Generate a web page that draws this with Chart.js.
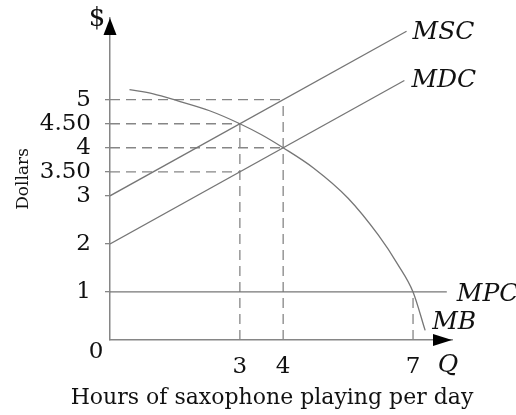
<!DOCTYPE html>
<html>
<head>
<meta charset="utf-8">
<script src="https://cdn.jsdelivr.net/npm/chart.js@4/dist/chart.umd.min.js"></script>
<style>
html,body{margin:0;padding:0;background:#fff;}
#wrap{width:516px;height:415px;position:relative;}
</style>
</head>
<body>
<div id="wrap"><canvas id="c"></canvas></div>
<script>
// ---- data (Q = hours per day, P = dollars) ----
const mscQ = [0, 6.85];
const mscP = [3, 6.425];
const mdcQ = [0, 6.8];
const mdcP = [2, 5.4];
const mpcQ = [0, 7.78];
const mpcP = [1, 1];
const mbQ = [0.45, 1.0, 1.55, 2.3, 3.0, 3.5, 4.0, 4.7, 5.5, 6.2, 6.65, 7.0, 7.28];
const mbP = [5.21, 5.12, 4.98, 4.77, 4.5, 4.27, 4.0, 3.58, 2.95, 2.18, 1.57, 1.0, 0.2];
// dashed guides
const hGuideP = [5, 4.5, 4, 3.5];
const hGuideQ = [4, 3, 4, 3];
const vGuideQ = [3, 4, 7];
const vGuideP = [4.5, 5, 1];
// ticks
const xTickValues = [3, 4, 7];
const xTickLabels = ['3', '4', '7'];
const yTickValues = [1, 2, 3, 3.5, 4, 4.5, 5];
const yTickLabels = ['1', '2', '3', '3.50', '4', '4.50', '5'];
const curveNames = ['MSC', 'MDC', 'MPC', 'MB'];
const xTitle = 'Hours of saxophone playing per day';
const yTitle = 'Dollars';

const zip = (q, p) => q.map((v, i) => ({x: v, y: p[i]}));
const LINE = '#767676';
const DASH = '#868686';
const SERIF = '"DejaVu Serif", serif';

const solid = (label, data, extra) => Object.assign({
  label, data, borderColor: LINE, borderWidth: 1.3, pointRadius: 0, fill: false
}, extra || {});
const datasets = [
  solid(curveNames[0], zip(mscQ, mscP)),
  solid(curveNames[1], zip(mdcQ, mdcP)),
  solid(curveNames[2], zip(mpcQ, mpcP)),
  solid(curveNames[3], zip(mbQ, mbP), {cubicInterpolationMode: 'monotone'})
];
hGuideP.forEach((p, i) => datasets.push(solid('h' + i,
  [{x: 0, y: p}, {x: hGuideQ[i], y: p}], {borderColor: DASH, borderDash: [10, 6]})));
vGuideQ.forEach((q, i) => datasets.push(solid('v' + i,
  [{x: q, y: 0}, {x: q, y: vGuideP[i]}], {borderColor: DASH, borderDash: [10, 6]})));

const annot = {
  id: 'annot',
  afterDraw(chart) {
    const {ctx, chartArea: a, scales: {x, y}} = chart;
    ctx.save();
    ctx.fillStyle = '#000';
    // arrows
    ctx.beginPath();
    ctx.moveTo(a.left, a.top); ctx.lineTo(a.left - 6.5, a.top + 17); ctx.lineTo(a.left + 6.5, a.top + 17); ctx.closePath(); ctx.fill();
    ctx.beginPath();
    ctx.moveTo(a.right, a.bottom); ctx.lineTo(a.right - 19, a.bottom - 6); ctx.lineTo(a.right - 19, a.bottom + 6); ctx.closePath(); ctx.fill();
    ctx.fillStyle = '#111';
    ctx.textBaseline = 'middle';
    ctx.textAlign = 'center';
    ctx.font = '26px ' + SERIF;
    ctx.fillText('$', a.left - 13, a.top + 1);
    ctx.font = '23px ' + SERIF;
    ctx.fillText('0', a.left - 14, a.bottom + 12);
    ctx.font = '22px ' + SERIF;
    ctx.fillText(xTitle, 272, a.bottom + 58);
    ctx.font = 'italic 25px ' + SERIF;
    ctx.fillText('Q', a.right - 4, a.bottom + 25);
    ctx.textAlign = 'left';
    const ends = [
      [mscQ[1], mscP[1], 6, 1],
      [mdcQ[1], mdcP[1], 7, 0],
      [mpcQ[1], mpcP[1], 10, 3],
      [mbQ[mbQ.length - 1], mbP[mbP.length - 1], 7, -8]
    ];
    ends.forEach((e, i) => {
      ctx.fillText(curveNames[i], x.getPixelForValue(e[0]) + e[2], y.getPixelForValue(e[1]) + e[3]);
    });
    ctx.restore();
  }
};

const noPad = s => { s.paddingTop = 0; s.paddingBottom = 0; s.paddingLeft = 0; s.paddingRight = 0; };

new Chart(document.getElementById('c'), {
  type: 'line',
  data: {datasets},
  plugins: [annot],
  options: {
    responsive: true,
    maintainAspectRatio: false,
    animation: false,
    layout: {padding: {top: 18, right: 64, left: 0, bottom: 0}},
    plugins: {legend: {display: false}, tooltip: {enabled: false}},
    scales: {
      x: {
        type: 'linear', min: 0, max: 7.9,
        afterBuildTicks: s => { s.ticks = xTickValues.map(v => ({value: v})); },
        afterFit: s => { s.height = 75; noPad(s); },
        ticks: {
          callback: v => xTickLabels[xTickValues.indexOf(v)] ?? '',
          color: '#111', font: {family: SERIF, size: 23}, padding: 13, maxRotation: 0, autoSkip: false
        },
        grid: {display: false, drawTicks: false},
        border: {display: true, color: '#868686', width: 1.5}
      },
      y: {
        type: 'linear', min: 0, max: 6.7,
        afterBuildTicks: s => { s.ticks = yTickValues.map(v => ({value: v})); },
        afterFit: s => { s.width = 110; noPad(s); },
        ticks: {
          callback: v => yTickLabels[yTickValues.indexOf(v)] ?? '',
          color: '#111', font: {family: SERIF, size: 23}, padding: 14, autoSkip: false
        },
        grid: {display: true, drawOnChartArea: false, drawTicks: true, tickLength: 5, color: '#868686', lineWidth: 1.3},
        border: {display: true, color: '#868686', width: 1.5},
        title: {display: true, text: yTitle, color: '#111',
          font: {family: SERIF, size: 17}, padding: {top: 13, bottom: 0}}
      }
    }
  }
});
</script>
</body>
</html>
